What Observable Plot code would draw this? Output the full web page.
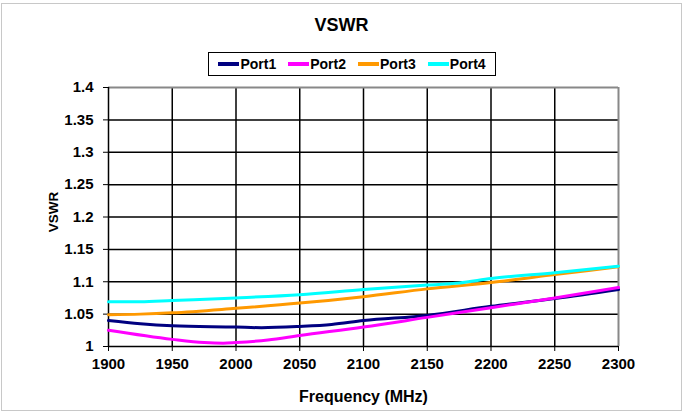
<!DOCTYPE html>
<html><head><meta charset="utf-8">
<script src="https://cdn.jsdelivr.net/npm/d3@7"></script>
<script src="https://cdn.jsdelivr.net/npm/@observablehq/plot@0.6"></script>
<style>
body{margin:0;background:#fff;font-family:"Liberation Sans",Arial,sans-serif;}
#wrap{position:relative;width:683px;height:413px;}
#frame{position:absolute;left:1px;top:3px;width:681px;height:408px;border:1px solid #c8c8c8;box-sizing:border-box;pointer-events:none;}
#title{position:absolute;left:0;width:683px;top:14px;text-align:center;font-weight:bold;font-size:18px;line-height:22px;}
#legend{position:absolute;left:208px;top:52px;width:288px;height:24px;border:1.5px solid #000;box-sizing:border-box;display:flex;align-items:center;justify-content:center;gap:12px;font-weight:bold;font-size:14px;}
#legend span.sw{display:inline-block;width:21px;height:4px;vertical-align:middle;margin-right:1px;position:relative;top:-1px;}
#chart{position:absolute;left:0;top:0;}
</style></head>
<body><div id="wrap"><div id="chart"></div><div id="title">VSWR</div><div id="legend"></div><div id="frame"></div></div>
<script>
const series = ["Port1","Port2","Port3","Port4"];
const colors = ["#000080","#FF00FF","#FF9900","#00FFFF"];
const freq1 = [1900,1925,1950,2000,2020,2050,2075,2100,2150,2200,2250,2300];
const port1 = [1.040,1.035,1.032,1.030,1.029,1.031,1.034,1.040,1.048,1.062,1.074,1.088];
const freq2 = [1900,1950,1975,1990,2000,2025,2050,2100,2150,2200,2250,2300];
const port2 = [1.025,1.011,1.006,1.005,1.006,1.010,1.017,1.030,1.045,1.060,1.075,1.091];
const freq3 = [1900,1925,1950,2000,2050,2100,2150,2200,2250,2300];
const port3 = [1.049,1.050,1.052,1.059,1.067,1.077,1.089,1.099,1.111,1.123];
const freq4 = [1900,1925,1950,2000,2050,2100,2150,2175,2200,2250,2300];
const port4 = [1.069,1.069,1.071,1.075,1.080,1.088,1.095,1.098,1.105,1.114,1.124];
const xTicks = [1900,1950,2000,2050,2100,2150,2200,2250,2300];
const yTicks = [1,1.05,1.1,1.15,1.2,1.25,1.3,1.35,1.4];

const freqs=[freq1,freq2,freq3,freq4], vals=[port1,port2,port3,port4];
const data = series.flatMap((s,i)=>freqs[i].map((f,j)=>({series:s,f,v:vals[i][j]})));

const leg = document.getElementById("legend");
series.forEach((s,i)=>{const d=document.createElement("div");d.innerHTML=`<span class="sw" style="background:${colors[i]}"></span>${s}`;leg.appendChild(d);});

const plot = Plot.plot({
  width:683, height:413,
  marginLeft:108, marginRight:65, marginTop:87, marginBottom:67,
  style:{fontFamily:"Liberation Sans, Arial, sans-serif", fontWeight:"bold", fontSize:"15px", color:"#000"},
  x:{domain:[1900,2300], ticks:xTicks, label:null},
  y:{domain:[1,1.4], ticks:yTicks, label:null},
  color:{domain:series, range:colors},
  marks:[
    Plot.gridX(xTicks.slice(1,-1),{stroke:"#000",strokeOpacity:1,strokeWidth:1.5}),
    Plot.gridY(yTicks.slice(1,-1),{stroke:"#000",strokeOpacity:1,strokeWidth:1.5}),
    Plot.ruleX([2300],{stroke:"#888",strokeWidth:2}),
    Plot.ruleY([1.4],{stroke:"#888",strokeWidth:2}),
    Plot.ruleX([1900],{stroke:"#000",strokeWidth:1.5}),
    Plot.ruleY([1],{stroke:"#000",strokeWidth:1.5}),
    Plot.axisX({ticks:xTicks, tickSize:5, tickPadding:7, tickFormat:d=>String(d), fontSize:15, fontWeight:"bold"}),
    Plot.axisY({ticks:yTicks, tickSize:5, tickPadding:10, tickFormat:d=>String(+d.toFixed(2)), fontSize:15, fontWeight:"bold"}),
    Plot.text(["Frequency (MHz)"],{frameAnchor:"bottom", dy:55, fontSize:16, fontWeight:"bold", fill:"#000"}),
    Plot.text(["VSWR"],{frameAnchor:"left", textAnchor:"middle", rotate:-90, dx:-55, dy:-5, fontSize:13.5, fontWeight:"bold", fill:"#000"}),
    Plot.line(data,{x:"f",y:"v",z:"series",stroke:"series",strokeWidth:3,curve:"monotone-x"})
  ]
});
document.getElementById("chart").appendChild(plot);
</script></body></html>
